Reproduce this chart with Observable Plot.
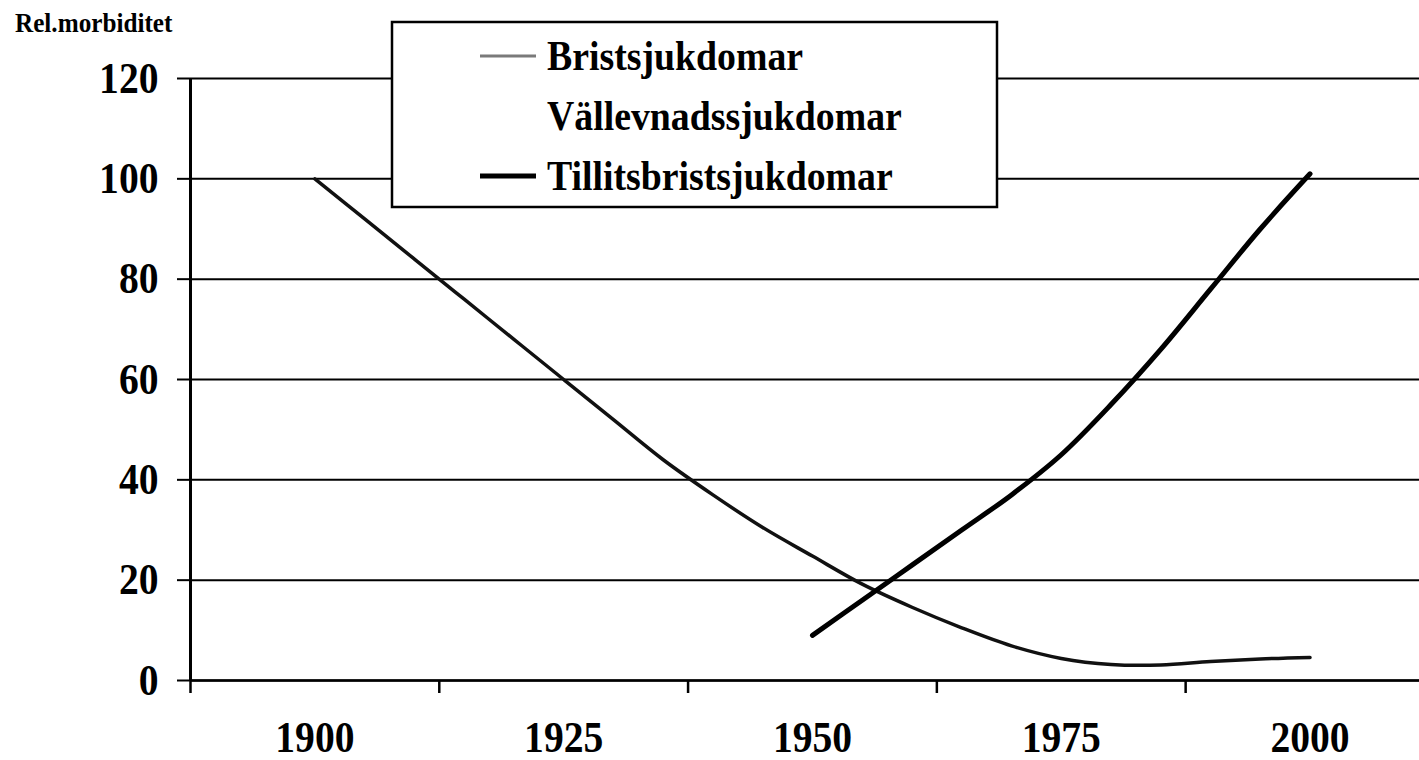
<!DOCTYPE html>
<html>
<head>
<meta charset="utf-8">
<script src="https://cdn.jsdelivr.net/npm/d3@7"></script>
<script src="https://cdn.jsdelivr.net/npm/@observablehq/plot@0.6"></script>
<style>
  html, body { margin: 0; padding: 0; background: white; }
  #chart { position: relative; width: 1419px; height: 760px; }
</style>
</head>
<body>
<div id="chart"></div>
<script>
// ---- data ----
const yAxisTitle = "Rel.morbiditet";
const seriesNames = ["Bristsjukdomar", "Vällevnadssjukdomar", "Tillitsbristsjukdomar"];

const bristYears  = [1900, 1905, 1910, 1915, 1920, 1925, 1930, 1935, 1940, 1945, 1950, 1955, 1960, 1965, 1970, 1975, 1980, 1985, 1990, 1995, 2000];
const bristValues = [100, 92, 84, 76, 68, 60, 52, 44, 37, 30.5, 24.8, 19.2, 14.6, 10.5, 6.9, 4.4, 3.2, 3.1, 3.8, 4.3, 4.6];

const tillitYears  = [1950, 1955, 1960, 1965, 1970, 1975, 1980, 1985, 1990, 1995, 2000];
const tillitValues = [9, 16, 23, 30, 37, 45, 55, 66, 78, 90, 101];

const yTicks = [0, 20, 40, 60, 80, 100, 120];
const xLabelYears = [1900, 1925, 1950, 1975, 2000];
const xTickMarks = [1887.5, 1912.5, 1937.5, 1962.5, 1987.5];
const xDomain = [1887.5, 2011];

// ---- build tables ----
const brist = bristYears.map((year, i) => ({year, value: bristValues[i], series: seriesNames[0]}));
const tillit = tillitYears.map((year, i) => ({year, value: tillitValues[i], series: seriesNames[2]}));

const font = "Liberation Serif, Times New Roman, serif";
const condense = 0.9;

const plot = Plot.plot({
  width: 1419,
  height: 760,
  marginLeft: 190,
  marginRight: 0,
  marginTop: 78,
  marginBottom: 80,
  style: {fontFamily: font, fontWeight: "bold", background: "white", color: "black", overflow: "visible"},
  x: {type: "linear", domain: xDomain},
  y: {domain: [0, 120]},
  marks: [
    Plot.gridY(yTicks, {stroke: "black", strokeOpacity: 1, strokeWidth: 2}),
    Plot.axisY(yTicks, {tickSize: 13, tickPadding: 19, fontSize: 44, strokeWidth: 2, label: null}),
    Plot.axisX(xTickMarks, {tickSize: 13, tickFormat: () => "", strokeWidth: 2.5, label: null}),
    Plot.axisX(xLabelYears, {tickSize: 0, tickPadding: 40, fontSize: 44, tickFormat: d => String(d), label: null}),
    Plot.ruleY([0], {stroke: "black", strokeWidth: 2.5}),
    Plot.ruleX([xDomain[0]], {y1: 0, y2: 120, stroke: "black", strokeWidth: 3}),
    Plot.line(brist, {x: "year", y: "value", stroke: "#111", strokeWidth: 3.5, curve: "catmull-rom"}),
    Plot.line(tillit, {x: "year", y: "value", stroke: "black", strokeWidth: 5, curve: "catmull-rom"})
  ]
});

document.getElementById("chart").appendChild(plot);

const svg = d3.select(plot);

// condense all axis text horizontally (narrow bold serif look)
svg.selectAll("text").each(function() {
  const t = d3.select(this);
  const tr = t.attr("transform") || "";
  t.attr("transform", tr + ` scale(${condense},1)`);
});

// y-axis title
svg.append("text")
  .attr("transform", `translate(15,32) scale(${condense},1)`)
  .attr("text-anchor", "start")
  .attr("font-family", font)
  .attr("font-weight", "bold")
  .attr("font-size", 28)
  .attr("fill", "black")
  .text(yAxisTitle);

// legend
const swatchStyle = [
  {stroke: "#7a7a7a", width: 3},
  {stroke: "white", width: 0},
  {stroke: "black", width: 5}
];
const lg = svg.append("g");
lg.append("rect")
  .attr("x", 392).attr("y", 22).attr("width", 605).attr("height", 185)
  .attr("fill", "white").attr("stroke", "black").attr("stroke-width", 2.5);
seriesNames.forEach((name, i) => {
  const base = 70 + i * 60;
  if (swatchStyle[i].width > 0) {
    lg.append("line")
      .attr("x1", 480).attr("x2", 536)
      .attr("y1", base - 14).attr("y2", base - 14)
      .attr("stroke", swatchStyle[i].stroke)
      .attr("stroke-width", swatchStyle[i].width);
  }
  lg.append("text")
    .attr("transform", `translate(547,${base}) scale(${condense},1)`)
    .attr("text-anchor", "start")
    .attr("font-family", font)
    .attr("font-weight", "bold")
    .attr("font-size", 42)
    .attr("fill", "black")
    .text(name);
});
</script>
</body>
</html>
